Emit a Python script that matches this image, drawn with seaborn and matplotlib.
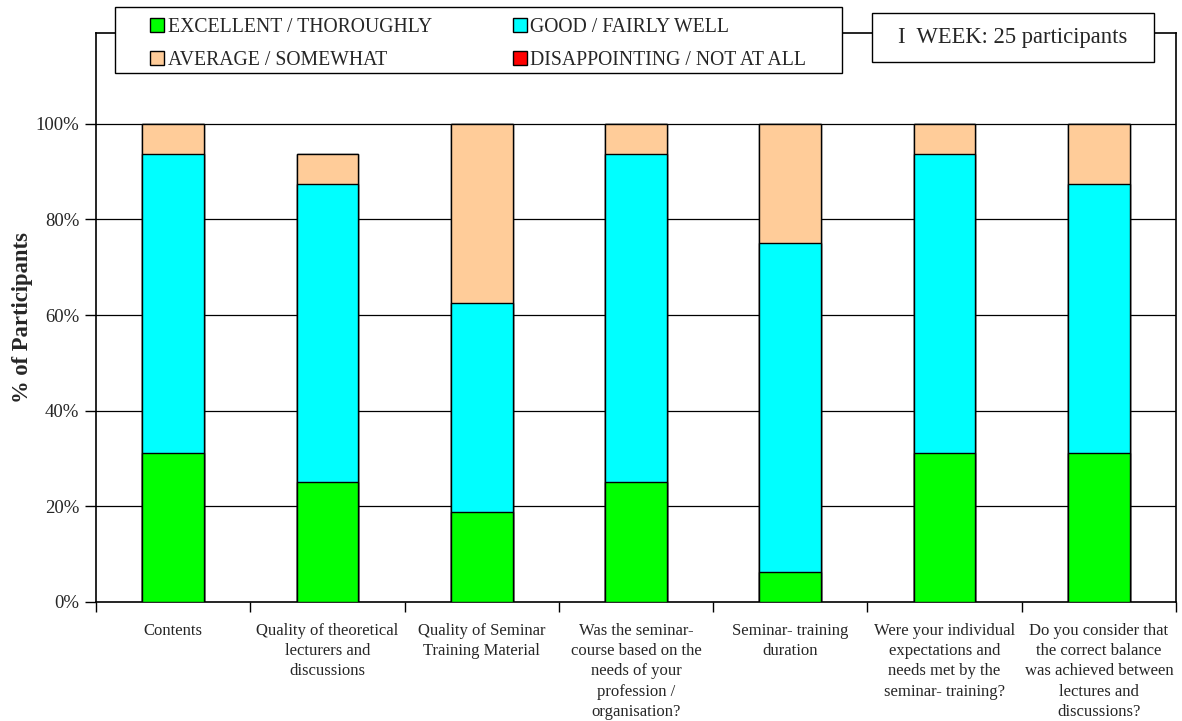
import matplotlib
matplotlib.use("Agg")
import matplotlib.pyplot as plt
from matplotlib.patches import Patch, Rectangle
from matplotlib.ticker import FixedLocator, FuncFormatter
import seaborn as sns
import pandas as pd
import numpy as np

# Survey questions (x-axis categories)
categories = [
    "Contents",
    "Quality of theoretical\nlecturers and\ndiscussions",
    "Quality of Seminar\nTraining Material",
    "Was the seminar-\ncourse based on the\nneeds of your\nprofession /\norganisation?",
    "Seminar- training\nduration",
    "Were your individual\nexpectations and\nneeds met by the\nseminar- training?",
    "Do you consider that\nthe correct balance\nwas achieved between\nlectures and\ndiscussions?",
]

# Share of participants per answer (%)
excellent = [31.25, 25.0, 18.75, 25.0, 6.25, 31.25, 31.25]
good = [62.5, 62.5, 43.75, 68.75, 68.75, 62.5, 56.25]
average = [6.25, 6.25, 37.5, 6.25, 25.0, 6.25, 12.5]
disappointing = [0.0, 0.0, 0.0, 0.0, 0.0, 0.0, 0.0]

series_names = ["EXCELLENT / THOROUGHLY", "GOOD / FAIRLY WELL",
                "AVERAGE / SOMEWHAT", "DISAPPOINTING / NOT AT ALL"]
series_colors = ["#00FF00", "#00FFFF", "#FFCC99", "#FF0000"]

sns.set_theme(style="white")
plt.rcParams["font.family"] = ["Liberation Serif", "DejaVu Serif"]

W, H = 1182, 721
fig = plt.figure(figsize=(W / 100, H / 100), dpi=100)
ax = fig.add_axes([96 / W, 1 - 602 / H, (1176 - 96) / W, (602 - 33) / H])

# Stacked bars: draw cumulative totals from the top layer down
layers = [excellent, good, average, disappointing]
cum = np.cumsum(np.array(layers), axis=0)
idx = np.arange(len(categories))
for k in range(len(layers) - 1, -1, -1):
    df = pd.DataFrame({"pos": idx, "val": cum[k]})
    sns.barplot(data=df, x="pos", y="val", color=series_colors[k],
                saturation=1, width=0.4, edgecolor="black", linewidth=1,
                ax=ax, native_scale=True, zorder=3)

ax.set_xlim(-0.5, len(categories) - 0.5)
ax.set_ylim(0, 119)

# y axis
ax.yaxis.set_major_locator(FixedLocator([0, 20, 40, 60, 80, 100]))
ax.yaxis.set_major_formatter(FuncFormatter(lambda v, p: f"{int(v)}%"))
ax.tick_params(axis="y", which="major", direction="out", length=8, width=1,
               color="black", labelsize=13.5, pad=4, left=True)
for yv in [20, 40, 60, 80, 100]:
    ax.axhline(yv, color="black", linewidth=0.9, zorder=1)
ax.set_ylabel("% of Participants", fontsize=16.3, fontweight="bold", labelpad=1.5)

# x axis: labels at centres, tick marks at category boundaries
ax.set_xticks(idx)
ax.set_xticklabels(categories, fontsize=12, linespacing=1.36, va="top")
ax.tick_params(axis="x", which="major", length=0, pad=15)
ax.set_xticks(np.arange(-0.5, len(categories), 1.0), minor=True)
ax.tick_params(axis="x", which="minor", direction="out", length=7, width=1,
               color="black", bottom=True)
ax.set_xlabel("")

for s in ax.spines.values():
    s.set_visible(True)
    s.set_color("black")
    s.set_linewidth(1.2)

# Legend box above the plot (frame drawn as a figure rectangle)
fig.patches.append(Rectangle((115 / W, 1 - 73 / H), (842 - 115) / W, (73 - 7) / H,
                             transform=fig.transFigure, facecolor="white",
                             edgecolor="black", linewidth=1.0, zorder=2))
handles = [Patch(facecolor=c, edgecolor="black", linewidth=1) for c in series_colors]
order = [0, 2, 1, 3]  # fill rows left to right
leg = fig.legend([handles[i] for i in order], [series_names[i] for i in order],
                 loc="upper left", bbox_to_anchor=(150 / W, 1 - 17.5 / H), ncol=2,
                 frameon=False, fontsize=14.2, handlelength=0.72,
                 handleheight=0.72, handletextpad=0.18, columnspacing=4.1,
                 labelspacing=0.72, borderpad=0, borderaxespad=0)
leg.set_zorder(5)

# Participant count box
fig.patches.append(Rectangle((872 / W, 1 - 62 / H), (1154 - 872) / W, (62 - 13) / H,
                             transform=fig.transFigure, facecolor="white",
                             edgecolor="black", linewidth=1.0, zorder=2))
fig.text(1012.5 / W, 1 - 38 / H, "I  WEEK: 25 participants", fontsize=16.3,
         ha="center", va="center", zorder=6)

fig.savefig("out.png", dpi=100, facecolor="white")
